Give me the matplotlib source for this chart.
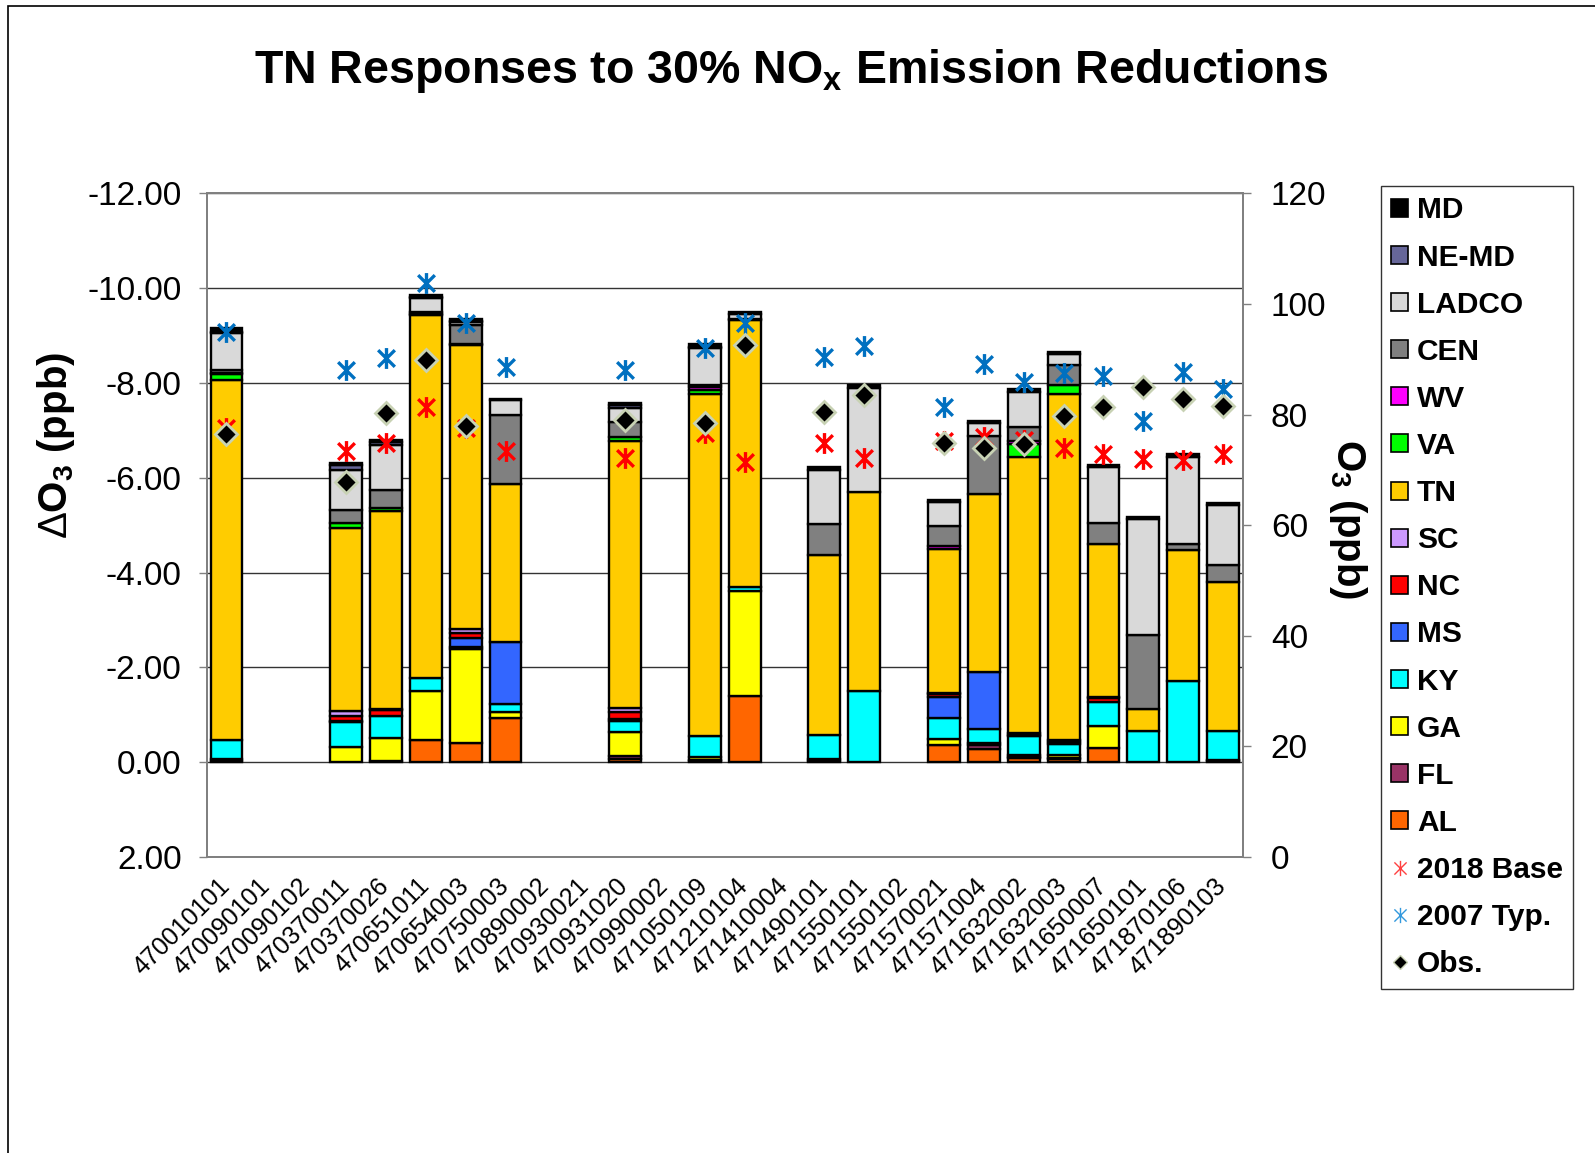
import numpy as np
import matplotlib
matplotlib.use('Agg')
import matplotlib.pyplot as plt
from matplotlib.patches import Patch, Rectangle
from matplotlib.lines import Line2D
from matplotlib.path import Path
from matplotlib.transforms import ScaledTranslation

plt.rcParams['font.family'] = ['Liberation Sans', 'DejaVu Sans']
plt.rcParams['mathtext.fontset'] = 'custom'
plt.rcParams['mathtext.rm'] = 'Liberation Sans'
plt.rcParams['mathtext.bf'] = 'Liberation Sans:bold'
plt.rcParams['mathtext.it'] = 'Liberation Sans:italic'

sites = ['470010101', '470090101', '470090102', '470370011', '470370026', '470651011',
         '470654003', '470750003', '470890002', '470930021', '470931020', '470990002',
         '471050109', '471210104', '471410004', '471490101', '471550101', '471550102',
         '471570021', '471571004', '471632002', '471632003', '471650007', '471650101',
         '471870106', '471890103']

n = np.nan
# delta O3 (ppb) contributions, stacked from AL (bottom) to MD (top)
AL = [-0.03, n, n, 0.0, 0.0, -0.47, -0.40, -0.94, n, n, -0.07, n, -0.02, -1.40, n, -0.03, 0.0, n,
      -0.37, -0.28, -0.08, -0.06, -0.31, 0.0, 0.0, -0.03]
FL = [-0.03, n, n, 0.0, -0.03, 0.0, 0.0, 0.0, n, n, -0.06, n, -0.02, 0.0, n, -0.03, 0.0, n,
      0.0, -0.08, -0.02, -0.02, 0.0, 0.0, 0.0, -0.02]
GA = [0.0, n, n, -0.33, -0.49, -1.03, -1.99, -0.11, n, n, -0.51, n, -0.06, -2.21, n, 0.0, 0.0, n,
      -0.12, -0.04, -0.06, -0.08, -0.46, 0.0, 0.0, 0.0]
KY = [-0.40, n, n, -0.52, -0.45, -0.28, -0.05, -0.17, n, n, -0.22, n, -0.45, -0.08, n, -0.52, -1.50, n,
      -0.45, -0.30, -0.39, -0.22, -0.51, -0.66, -1.72, -0.61]
MS = [0.0, n, n, -0.02, 0.0, 0.0, -0.18, -1.31, n, n, -0.06, n, 0.0, 0.0, n, 0.0, 0.0, n,
      -0.44, -1.20, -0.03, -0.04, 0.0, 0.0, 0.0, 0.0]
NC = [0.0, n, n, -0.11, -0.13, 0.0, -0.10, 0.0, n, n, -0.13, n, 0.0, 0.0, n, 0.0, 0.0, n,
      -0.06, 0.0, -0.04, -0.04, -0.08, 0.0, 0.0, 0.0]
SC = [0.0, n, n, -0.10, -0.02, 0.0, -0.08, 0.0, n, n, -0.10, n, 0.0, 0.0, n, 0.0, 0.0, n,
      -0.02, 0.0, 0.0, 0.0, -0.02, 0.0, 0.0, 0.0]
TN = [-7.60, n, n, -3.87, -4.18, -7.66, -6.00, -3.34, n, n, -5.63, n, -7.21, -5.64, n, -3.80, -4.20, n,
      -3.04, -3.75, -5.81, -7.30, -3.22, -0.47, -2.75, -3.14]
VA = [-0.12, n, n, -0.10, -0.06, -0.02, -0.02, 0.0, n, n, -0.08, n, -0.09, 0.0, n, 0.0, 0.0, n,
      0.0, 0.0, -0.29, -0.20, 0.0, 0.0, 0.0, 0.0]
WV = [-0.04, n, n, 0.0, 0.0, 0.0, 0.0, 0.0, n, n, 0.0, n, -0.07, 0.0, n, 0.0, 0.0, n,
      -0.06, 0.0, -0.06, 0.0, 0.0, 0.0, 0.0, 0.0]
CEN = [-0.06, n, n, -0.28, -0.38, -0.04, -0.40, -1.46, n, n, -0.31, n, -0.04, -0.02, n, -0.65, 0.0, n,
       -0.42, -1.23, -0.29, -0.42, -0.45, -1.55, -0.13, -0.36]
LADCO = [-0.78, n, n, -0.84, -0.96, -0.30, -0.06, -0.31, n, n, -0.31, n, -0.78, -0.10, n, -1.14, -2.20, n,
         -0.51, -0.28, -0.75, -0.24, -1.17, -2.46, -1.83, -1.26]
NE_MD = [-0.02, n, n, -0.10, -0.06, -0.02, -0.02, 0.0, n, n, -0.05, n, -0.01, 0.0, n, 0.0, 0.0, n,
         0.0, 0.0, 0.0, 0.0, 0.0, 0.0, 0.0, 0.0]
MD = [-0.07, n, n, -0.05, -0.04, -0.04, -0.05, -0.03, n, n, -0.04, n, -0.07, -0.05, n, -0.05, -0.05, n,
      -0.04, -0.04, -0.05, -0.04, -0.05, -0.04, -0.07, -0.04]

# O3 (ppb), right axis
base2018 = [77.5, n, n, 73.4, 74.9, 81.4, 77.6, 73.4, n, n, 72.1, n, 76.6, 71.5, n, 74.9, 72.1, n,
            75.3, 75.9, 75.4, 74.0, 72.9, 71.9, 71.8, 72.9]
typ2007 = [95.0, n, n, 88.0, 90.3, 103.8, 96.5, 88.6, n, n, 88.1, n, 92.0, 96.6, n, 90.4, 92.4, n,
           81.4, 89.1, 85.9, 87.6, 87.0, 78.9, 87.7, 84.7]
obs = [76.4, n, n, 67.9, 80.2, 89.8, 77.9, n, n, n, 79.0, n, 78.5, 92.6, n, 80.5, 83.6, n,
       74.8, 74.0, 74.7, 79.7, 81.4, 84.9, 82.8, 81.5]

series = [('AL', AL, '#FF6600'), ('FL', FL, '#993366'), ('GA', GA, '#FFFF00'),
          ('KY', KY, '#00FFFF'), ('MS', MS, '#3366FF'), ('NC', NC, '#FF0000'),
          ('SC', SC, '#CC99FF'), ('TN', TN, '#FFCC00'), ('VA', VA, '#00FF00'),
          ('WV', WV, '#FF00FF'), ('CEN', CEN, '#808080'), ('LADCO', LADCO, '#D9D9D9'),
          ('NE-MD', NE_MD, '#666699'), ('MD', MD, '#000000')]

fig = plt.figure(figsize=(15.95, 11.53), dpi=100)
ax = fig.add_axes([0.1295, 0.2567, 0.6498, 0.5756])
x = np.arange(len(sites))

bottom = np.zeros(len(sites))
for name, vals, col in series:
    v = np.array(vals, dtype=float)
    h = np.where(v == 0, np.nan, v)
    ax.bar(x, h, 0.8, bottom=bottom, color=col, edgecolor='black', linewidth=1.7, zorder=2)
    bottom = bottom + np.nan_to_num(v)

ax.set_xlim(-0.5, len(sites) - 0.5)
ax.set_ylim(2, -12)
ax.set_yticks(np.arange(-12, 3, 2))
ax.set_yticklabels(['%.2f' % t for t in np.arange(-12, 3, 2)])
ax.set_axisbelow(True)
ax.yaxis.grid(True, color='#333333', lw=1.0)
ax.set_xticks(x)
ax.set_xticklabels(sites, rotation=45, ha='right', rotation_mode='anchor', fontsize=18)
ax.tick_params(axis='x', length=0, pad=12)
ax.tick_params(axis='y', labelsize=24, length=6, width=1, color='#808080', pad=12)
shift = ScaledTranslation(-9 / 100, 0, fig.dpi_scale_trans)
for lab in ax.get_xticklabels():
    lab.set_transform(lab.get_transform() + shift)

ax2 = ax.twinx()
ax2.set_ylim(0, 120)
ax2.set_yticks(np.arange(0, 121, 20))
ax2.tick_params(axis='y', labelsize=24, length=6, width=1, color='#808080', pad=14)

for a in (ax, ax2):
    for s in a.spines.values():
        s.set_color('#808080')
        s.set_linewidth(1.3)

# Excel-style asterisk: vertical bar plus an X
ast = Path([(0, -1), (0, 1), (-0.8, -0.8), (0.8, 0.8), (-0.8, 0.8), (0.8, -0.8)],
           [Path.MOVETO, Path.LINETO, Path.MOVETO, Path.LINETO, Path.MOVETO, Path.LINETO])

ax2.plot(x, base2018, ls='none', marker=ast, ms=15, mew=2.4, color='#FF0000', zorder=3)
ax2.plot(x, typ2007, ls='none', marker=ast, ms=15, mew=2.4, color='#0070C0', zorder=3)
ax2.plot(x, obs, ls='none', marker='D', ms=11, mfc='black', mec='#C8D2B4', mew=2, zorder=4)

fig.text(791 / 1595, 1 - 71 / 1153, r'TN Responses to 30% NO$_\mathbf{x}$ Emission Reductions',
         ha='center', va='center', fontsize=33.5, fontweight='bold')
fig.text(56 / 1595, 1 - 445 / 1153, r'$\Delta$O$_\mathbf{3}$ (ppb)', rotation=90,
         ha='center', va='center', fontsize=29, fontweight='bold')
fig.text(1348 / 1595, 1 - 519 / 1153, r'O$_\mathbf{3}$ (ppb)', rotation=270,
         ha='center', va='center', fontsize=29, fontweight='bold')

handles = [Patch(facecolor=col, edgecolor='black', lw=1.2, label=name) for name, vals, col in series[::-1]]
handles.append(Line2D([], [], ls='none', marker=ast, ms=11, mew=1.0, color='#FF4040', label='2018 Base'))
handles.append(Line2D([], [], ls='none', marker=ast, ms=11, mew=1.0, color='#3399DD', label='2007 Typ.'))
handles.append(Line2D([], [], ls='none', marker='D', ms=7, mfc='black', mec='#C8D2B4', mew=1, label='Obs.'))
leg = fig.legend(handles=handles, loc='upper left', bbox_to_anchor=(1381 / 1595, 1 - 186 / 1153),
                 borderaxespad=0, frameon=True, fancybox=False, edgecolor='black',
                 prop={'size': 21.5, 'weight': 'bold'}, labelspacing=0.64, borderpad=0.35,
                 handlelength=0.55, handleheight=0.55, handletextpad=0.3)
leg.get_frame().set_linewidth(1.0)

fig.patches.append(Rectangle((8 / 1595, -0.05), 1.2, 1.05 - 6 / 1153, transform=fig.transFigure,
                             fill=False, edgecolor='black', lw=1.2))

fig.savefig('out.png', dpi=100)
